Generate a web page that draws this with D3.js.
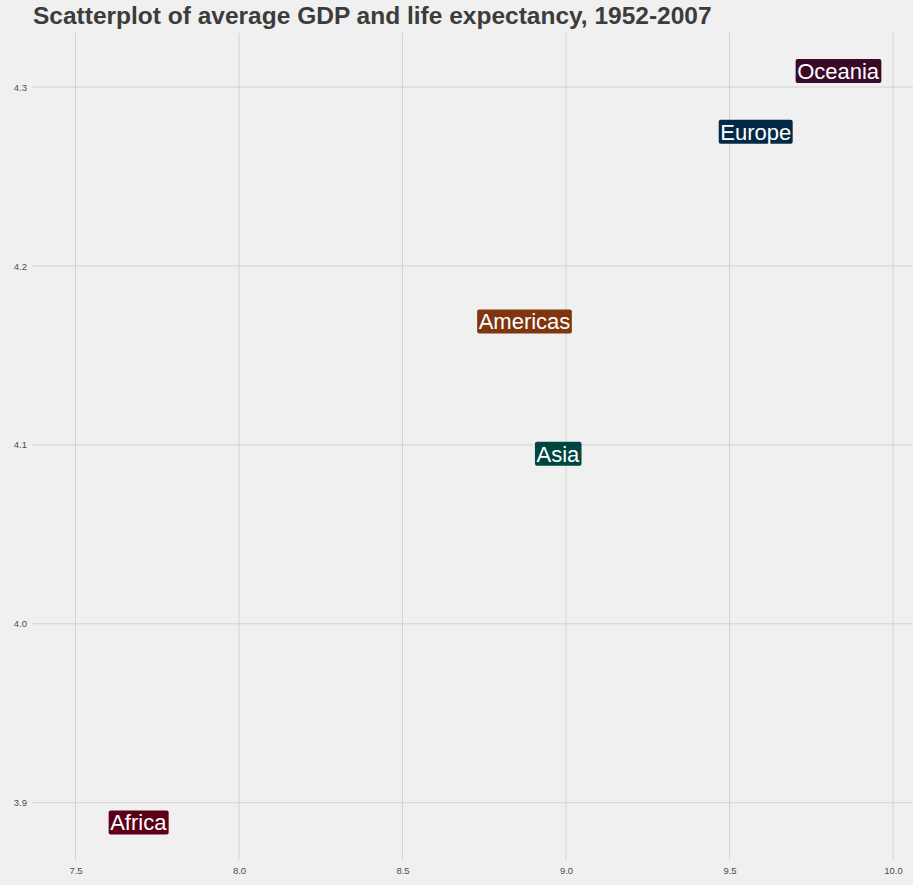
<!DOCTYPE html>
<html>
<head>
<meta charset="utf-8">
<script src="https://cdn.jsdelivr.net/npm/d3@7"></script>
<style>
  html, body { margin: 0; padding: 0; background: #f0f0f0; }
  svg { display: block; font-family: "Liberation Sans", Arial, sans-serif; }
</style>
</head>
<body>
<svg width="913" height="885"></svg>
<script>
// log of mean GDP per capita / mean life expectancy by continent
const continents = ["Africa", "Americas", "Asia", "Europe", "Oceania"];
const logGdp = [7.692, 8.873, 8.975, 9.580, 9.832];
const logLifeExp = [3.889, 4.169, 4.095, 4.275, 4.309];
const labelColors = ["#5c0017", "#803511", "#00453f", "#022a47", "#3b0a2b"];
const xTicks = [7.5, 8.0, 8.5, 9.0, 9.5, 10.0];
const yTicks = [3.9, 4.0, 4.1, 4.2, 4.3];

const svg = d3.select("svg"),
  width = +svg.attr("width"),
  height = +svg.attr("height");

const margin = { top: 33, right: 0, bottom: 25, left: 32 };

const x = d3.scaleLinear()
  .domain([7.367, 10.061])
  .range([margin.left, width - margin.right]);

const y = d3.scaleLinear()
  .domain([3.868, 4.3302])
  .range([height - margin.bottom, margin.top]);

svg.append("rect")
  .attr("width", width)
  .attr("height", height)
  .attr("fill", "#f0f0f0");

// grid
const grid = svg.append("g").attr("class", "grid");
grid.selectAll("line.v")
  .data(xTicks)
  .enter()
  .append("line")
  .attr("class", "v")
  .attr("x1", (d) => x(d)).attr("x2", (d) => x(d))
  .attr("y1", margin.top).attr("y2", height - margin.bottom)
  .attr("stroke", "#d2d2d2")
  .attr("stroke-width", 1);

grid.selectAll("line.h")
  .data(yTicks)
  .enter()
  .append("line")
  .attr("class", "h")
  .attr("x1", margin.left).attr("x2", width - margin.right)
  .attr("y1", (d) => y(d)).attr("y2", (d) => y(d))
  .attr("stroke", "#d2d2d2")
  .attr("stroke-width", 1);

// axes (labels only, theme has no axis lines)
const xAxis = svg.append("g")
  .attr("transform", `translate(0,${height - margin.bottom})`)
  .call(d3.axisBottom(x).tickValues(xTicks).tickFormat(d3.format(".1f")).tickSize(0).tickPadding(7));
const yAxis = svg.append("g")
  .attr("transform", `translate(${margin.left},0)`)
  .call(d3.axisLeft(y).tickValues(yTicks).tickFormat(d3.format(".1f")).tickSize(0).tickPadding(5));

[xAxis, yAxis].forEach((a) => {
  a.select(".domain").remove();
  a.selectAll("text")
    .attr("fill", "#4d4d4d")
    .style("font-size", "9.5px")
    .style("font-family", "'Liberation Sans', Arial, sans-serif");
});

// labels
const data = continents.map((c, i) => ({
  name: c, gdp: logGdp[i], life: logLifeExp[i], color: labelColors[i]
}));

const label = svg.append("g")
  .attr("class", "labels")
  .selectAll("g")
  .data(data)
  .enter()
  .append("g")
  .attr("transform", (d) => `translate(${x(d.gdp)},${y(d.life)})`);

label.append("rect")
  .attr("fill", (d) => d.color)
  .attr("rx", 2)
  .attr("ry", 2);

label.append("text")
  .attr("text-anchor", "middle")
  .attr("dy", "0.36em")
  .attr("fill", "#ffffff")
  .style("font-size", "22px")
  .text((d) => d.name);

label.each(function () {
  const g = d3.select(this);
  const bb = g.select("text").node().getBBox();
  g.select("rect")
    .attr("x", bb.x - 1.5)
    .attr("y", -12)
    .attr("width", bb.width + 3)
    .attr("height", 24);
});

// title
svg.append("text")
  .attr("x", 33)
  .attr("y", 24)
  .attr("fill", "#3c3c3c")
  .style("font-size", "24.5px")
  .style("font-weight", "bold")
  .text("Scatterplot of average GDP and life expectancy, 1952-2007");
</script>
</body>
</html>
